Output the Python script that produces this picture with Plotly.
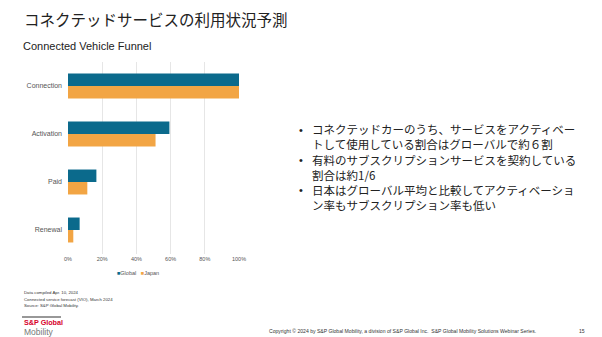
import plotly.graph_objects as go

categories = ["Connection", "Activation", "Paid", "Renewal"]
global_vals = [100, 59.3, 16.6, 6.8]
japan_vals = [100, 51.2, 11.3, 3.1]
x_ticks = [0, 20, 40, 60, 80, 100]
x_tick_labels = ["0%", "20%", "40%", "60%", "80%", "100%"]
series_names = ["Global", "Japan"]

title_text = "コネクテッドサービスの利用状況予測"
subtitle_text = "Connected Vehicle Funnel"
bullets = [
    ["コネクテッドカーのうち、サービスをアクティベー", "トして使用している割合はグローバルで約６割"],
    ["有料のサブスクリプションサービスを契約している", "割合は約1/6"],
    ["日本はグローバル平均と比較してアクティベーショ", "ン率もサブスクリプション率も低い"],
]
notes = ["Data compiled Apr. 10, 2024", "Connected service forecast (VIO), March 2024", "Source: S&P Global Mobility."]
copyright_text = "Copyright © 2024 by S&P Global Mobility, a division of S&P Global Inc.  S&P Global Mobility Solutions Webinar Series."
page_no = "15"

W, H = 602, 337
def px(x):
    return x / W
def py(y):
    return 1 - y / H

TEAL = "#0b6a8c"
ORANGE = "#f2a544"
JP = "Noto Sans CJK JP"
AR = "Liberation Sans, Arial, sans-serif"

fig = go.Figure()
fig.add_trace(go.Bar(name=series_names[0], y=categories, x=global_vals, orientation="h",
                     marker=dict(color=TEAL, line=dict(width=0)), showlegend=False))
fig.add_trace(go.Bar(name=series_names[1], y=categories, x=japan_vals, orientation="h",
                     marker=dict(color=ORANGE, line=dict(width=0)), showlegend=False))

annotations = [
    dict(text=title_text, x=px(22), y=py(19), xref="paper", yref="paper", xanchor="left", yanchor="middle",
         showarrow=False, font=dict(family=JP, size=15.5, color="#222222")),
    dict(text=subtitle_text, x=px(21), y=py(46), xref="paper", yref="paper", xanchor="left", yanchor="middle",
         showarrow=False, font=dict(family=AR, size=11, color="#222222")),
]

bullet_centers = [137, 167, 197]
for b, yc in zip(bullets, bullet_centers):
    annotations.append(dict(text="•", x=px(297), y=py(yc - 7.5), xref="paper", yref="paper", xanchor="left",
                            yanchor="middle", showarrow=False, font=dict(family=AR, size=11, color="#222222")))
    annotations.append(dict(text="<br>".join(b), x=px(310), y=py(yc), xref="paper", yref="paper",
                            xanchor="left", yanchor="middle", align="left", showarrow=False,
                            font=dict(family=JP, size=11.5, color="#222222")))

# legend (drawn as coloured text keys)
legend_text = (f"<span style='color:{TEAL}'>■</span>{series_names[0]}   "
               f"<span style='color:{ORANGE}'>■</span>{series_names[1]}")
annotations.append(dict(text=legend_text, x=px(115), y=py(272.5), xref="paper", yref="paper", xanchor="left",
                        yanchor="middle", showarrow=False, font=dict(family=AR, size=5.5, color="#555555")))

for i, n in enumerate(notes):
    annotations.append(dict(text=n, x=px(22), y=py(292.3 + i * 6.7), xref="paper", yref="paper", xanchor="left",
                            yanchor="middle", showarrow=False, font=dict(family=AR, size=4.3, color="#333333")))

annotations += [
    dict(text="<b>S&P Global</b>", x=px(21.5), y=py(322.7), xref="paper", yref="paper", xanchor="left",
         yanchor="middle", showarrow=False, font=dict(family=AR, size=7.2, color="#d6002a")),
    dict(text="Mobility", x=px(21.5), y=py(331.5), xref="paper", yref="paper", xanchor="left",
         yanchor="middle", showarrow=False, font=dict(family=AR, size=8.5, color="#777777")),
    dict(text=copyright_text, x=px(267), y=py(331), xref="paper", yref="paper", xanchor="left",
         yanchor="middle", showarrow=False, font=dict(family=AR, size=5.1, color="#333333")),
    dict(text=page_no, x=px(577), y=py(331), xref="paper", yref="paper", xanchor="left",
         yanchor="middle", showarrow=False, font=dict(family=AR, size=5.1, color="#333333")),
]

fig.update_layout(
    width=W, height=H,
    margin=dict(l=0, r=0, t=0, b=0),
    paper_bgcolor="white", plot_bgcolor="white",
    barmode="group", bargap=0.48, bargroupgap=0,
    showlegend=False,
    xaxis=dict(domain=[px(68), px(239)], range=[0, 100], tickvals=x_ticks, ticktext=x_tick_labels,
               showgrid=True, gridcolor="#e6e6e6", gridwidth=1, zeroline=False, showline=False,
               tickfont=dict(family=AR, size=5.5, color="#555555"), ticks="", ticklen=0,
               automargin=False, fixedrange=True),
    yaxis=dict(domain=[py(254), py(62)], categoryorder="array", categoryarray=categories,
               autorange="reversed", showgrid=False, zeroline=False, showline=False,
               tickfont=dict(family=AR, size=7, color="#555555"), ticks="", ticklen=3,
               ticklabelstandoff=5, automargin=False, fixedrange=True),
    annotations=annotations,
    shapes=[dict(type="line", xref="paper", yref="paper", x0=px(22), x1=px(61), y0=py(317), y1=py(317),
                 line=dict(color="#333333", width=1.2))],
)

fig.write_html("out.html")
